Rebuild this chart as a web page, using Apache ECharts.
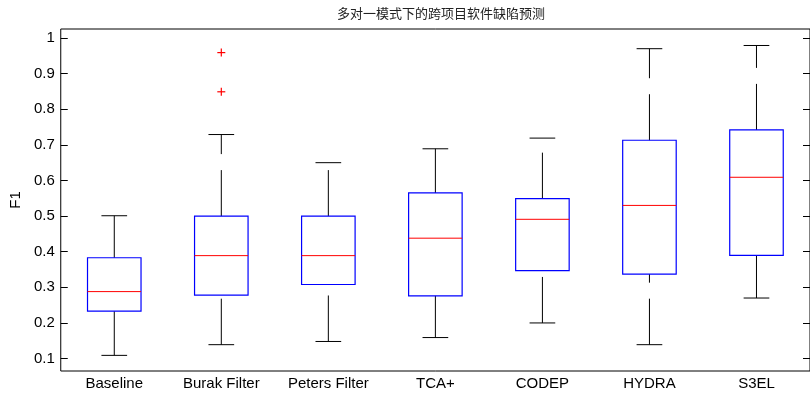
<!DOCTYPE html>
<html>
<head>
<meta charset="utf-8">
<script src="https://cdn.jsdelivr.net/npm/echarts@6/dist/echarts.min.js"></script>
<style>html,body{margin:0;padding:0;background:#fff;}#c{width:810px;height:394px;}</style>
</head>
<body>
<div id="c"></div>
<script>
var titleText = '多对一模式下的跨项目软件缺陷预测';
var yName = 'F1';
var categories = ['Baseline', 'Burak Filter', 'Peters Filter', 'TCA+', 'CODEP', 'HYDRA', 'S3EL'];
var lowerWhisker = [0.109, 0.139, 0.148, 0.159, 0.200, 0.139, 0.270];
var q1 = [0.233, 0.278, 0.308, 0.276, 0.347, 0.337, 0.390];
var median = [0.288, 0.389, 0.389, 0.438, 0.491, 0.530, 0.609];
var q3 = [0.383, 0.500, 0.500, 0.565, 0.549, 0.713, 0.742];
var upperWhisker = [0.501, 0.729, 0.650, 0.689, 0.719, 0.970, 0.979];
var outlierCategory = ['Burak Filter', 'Burak Filter'];
var outlierValue = [0.959, 0.849];
var yTicks = [0.1, 0.2, 0.3, 0.4, 0.5, 0.6, 0.7, 0.8, 0.9, 1];

var boxData = categories.map(function (c, i) {
  return [i, lowerWhisker[i], q1[i], median[i], q3[i], upperWhisker[i]];
});
var outData = outlierValue.map(function (v, i) {
  return [categories.indexOf(outlierCategory[i]), v];
});

var chart = echarts.init(document.getElementById('c'), null, {renderer: 'canvas'});
var font = 'Liberation Sans, Arial, sans-serif';
var yMin = 0.0651, yMax = 1.0253;

function yAxisCommon(pos, showLabel) {
  return {
    type: 'value', position: pos, min: yMin, max: yMax,
    splitLine: {show: false},
    axisLine: {show: false},
    axisTick: {show: true, inside: true, length: 7, customValues: yTicks, lineStyle: {color: '#000', width: 1}},
    axisLabel: {show: showLabel, customValues: yTicks, margin: 6, color: '#000', fontSize: 15, fontFamily: font,
      formatter: function (v) { return String(Math.round(v * 10) / 10); }}
  };
}

var left = yAxisCommon('left', true);
left.name = yName;
left.nameLocation = 'middle';
left.nameRotate = 90;
left.nameGap = 29;
left.nameTextStyle = {color: '#000', fontSize: 15, fontFamily: font};

chart.setOption({
  animation: false,
  backgroundColor: '#fff',
  title: {
    text: titleText, left: 436, top: 2, textAlign: 'center',
    textStyle: {fontSize: 13, fontWeight: 'normal', color: '#222', fontFamily: 'Noto Sans CJK SC'}
  },
  grid: {left: 60, top: 29, right: -5, bottom: 23, show: true, borderColor: '#000', borderWidth: 1, backgroundColor: 'transparent'},
  xAxis: {
    type: 'category', data: categories, boundaryGap: true,
    axisLine: {show: false}, axisTick: {show: false}, splitLine: {show: false},
    axisLabel: {color: '#000', fontSize: 15, fontFamily: font, margin: 5}
  },
  yAxis: [left, yAxisCommon('right', false)],
  series: [
    {
      type: 'custom',
      data: boxData,
      renderItem: function (params, api) {
        var i = api.value(0);
        var band = api.size([1, 0])[0];
        var bw = band * 0.5, cw = band * 0.24;
        var pL = api.coord([i, api.value(1)]);
        var p1 = api.coord([i, api.value(2)]);
        var pM = api.coord([i, api.value(3)]);
        var p3 = api.coord([i, api.value(4)]);
        var pH = api.coord([i, api.value(5)]);
        var x = pL[0];
        var blk = {stroke: '#000', lineWidth: 1};
        var dashed = {stroke: '#000', lineWidth: 1, lineDash: [46, 16]};
        return {
          type: 'group',
          children: [
            {type: 'line', shape: {x1: x, y1: pL[1], x2: x, y2: p1[1]}, style: dashed},
            {type: 'line', shape: {x1: x, y1: p3[1], x2: x, y2: pH[1]}, style: dashed},
            {type: 'line', shape: {x1: x - cw / 2, y1: pL[1], x2: x + cw / 2, y2: pL[1]}, style: blk},
            {type: 'line', shape: {x1: x - cw / 2, y1: pH[1], x2: x + cw / 2, y2: pH[1]}, style: blk},
            {type: 'rect', shape: {x: x - bw / 2, y: p3[1], width: bw, height: p1[1] - p3[1]},
              style: {fill: 'none', stroke: '#0000ff', lineWidth: 1.2}},
            {type: 'line', shape: {x1: x - bw / 2, y1: pM[1], x2: x + bw / 2, y2: pM[1]},
              style: {stroke: '#ff0000', lineWidth: 1}}
          ]
        };
      }
    },
    {
      type: 'custom',
      data: outData,
      renderItem: function (params, api) {
        var p = api.coord([api.value(0), api.value(1)]);
        var s = 4;
        var st = {stroke: '#ff0000', lineWidth: 1.2};
        return {
          type: 'group',
          children: [
            {type: 'line', shape: {x1: p[0] - s, y1: p[1], x2: p[0] + s, y2: p[1]}, style: st},
            {type: 'line', shape: {x1: p[0], y1: p[1] - s, x2: p[0], y2: p[1] + s}, style: st}
          ]
        };
      }
    }
  ]
});
</script>
</body>
</html>
